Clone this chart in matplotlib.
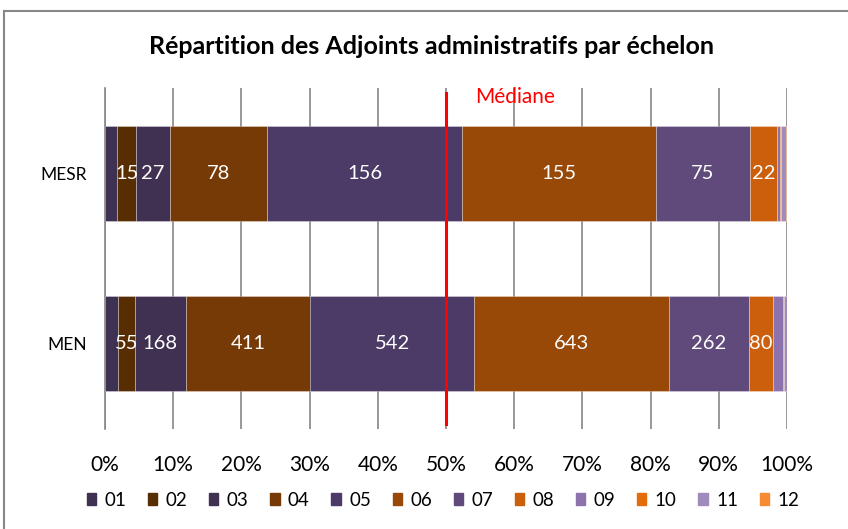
import numpy as np
import matplotlib
matplotlib.use("Agg")
import matplotlib.pyplot as plt
import matplotlib.patches as mpatches
from matplotlib.lines import Line2D

plt.rcParams['font.family'] = ['Lato', 'DejaVu Sans']

# --- Data (effectifs par échelon) ---
categories = ["MEN", "MESR"]
echelons = ["01", "02", "03", "04", "05", "06", "07", "08", "09", "10", "11", "12"]
men = [43, 55, 168, 411, 542, 643, 262, 80, 32, 4, 9, 1]
mesr = [10, 15, 27, 78, 156, 155, 75, 22, 2, 1, 4, 1]
labelled = ["02", "03", "04", "05", "06", "07", "08"]
median_pct = 0.50

colors = ["#3f3151", "#592d02", "#403152", "#763a06", "#4c3b66", "#984807",
          "#604a7b", "#cc5f0c", "#8c73ad", "#e46c0a", "#a08bbd", "#f68b33"]

counts = np.array([men, mesr], dtype=float)  # rows = categories
shares = counts / counts.sum(axis=1, keepdims=True)

fig = plt.figure(figsize=(8.48, 5.29), dpi=100)
ax = fig.add_axes([105 / 848, 1 - 429 / 529, 682 / 848, 341 / 529])

ypos = np.arange(len(categories))
left = np.zeros(len(categories))
for j, ech in enumerate(echelons):
    ax.barh(ypos, shares[:, j], left=left, height=0.56, color=colors[j],
            edgecolor=(1, 1, 1, 0.35), linewidth=0.6, zorder=3)
    if ech in labelled:
        for i in range(len(categories)):
            ax.text(left[i] + shares[i, j] / 2, ypos[i], f"{int(counts[i, j])}",
                    color="white", ha="center", va="center", fontsize=14.5, zorder=4)
    left += shares[:, j]

# median line
ax.plot([median_pct, median_pct], [-0.47, 1.47], color="#ff0000", linewidth=2.2,
        zorder=5, clip_on=False)
ax.text(median_pct + 0.042, 1.45, "Médiane", color="#ff0000", fontsize=15,
        ha="left", va="center")

ax.set_xlim(0, 1)
ax.set_ylim(-0.5, 1.5)
ax.set_xticks(np.linspace(0, 1, 11))
ax.set_xticklabels([f"{int(round(v * 100))}%" for v in np.linspace(0, 1, 11)], fontsize=15)
ax.set_yticks(ypos)
ax.set_yticklabels(categories, fontsize=12.5)
ax.tick_params(axis="both", length=0, colors="#000000")
ax.tick_params(axis="x", pad=19)
ax.tick_params(axis="y", pad=13)
ax.grid(axis="x", color="#868686", linewidth=1.2, zorder=0)
for side in ["top", "right", "bottom"]:
    ax.spines[side].set_visible(False)
ax.spines["left"].set_color("#868686")
ax.spines["left"].set_linewidth(1.2)

fig.suptitle("Répartition des Adjoints administratifs par échelon", x=431 / 848,
             y=1 - 47 / 529, va="center", fontsize=18, fontweight="bold")

handles = [mpatches.Patch(color=c, label=e) for c, e in zip(colors, echelons)]
fig.legend(handles=handles, loc="center", bbox_to_anchor=(443 / 848, 1 - 500 / 529),
           ncol=12, frameon=False, fontsize=13.5, handlelength=0.5, handleheight=0.6,
           handletextpad=0.45, columnspacing=1.15)

# chart area border (top and left visible)
fig.add_artist(Line2D([4 / 848, 4 / 848], [0, 1 - 11 / 529], transform=fig.transFigure,
                      color="#888888", linewidth=1.5))
fig.add_artist(Line2D([4 / 848, 1], [1 - 11 / 529, 1 - 11 / 529], transform=fig.transFigure,
                      color="#888888", linewidth=1.5))

fig.savefig("out.png", dpi=100)
